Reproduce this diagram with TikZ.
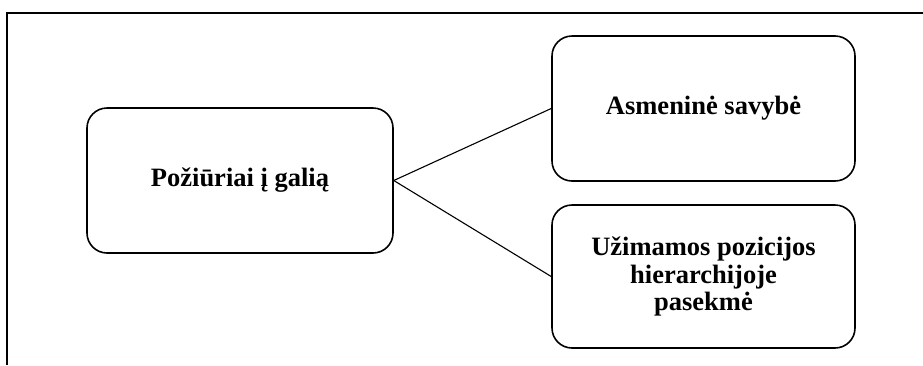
\documentclass[tikz,border=0pt]{standalone}
\usepackage{fontspec}
\setmainfont{Liberation Serif}
\begin{document}
\begin{tikzpicture}[x=1pt,y=-1pt,
  box/.style={draw=black, line width=1.6pt, rounded corners=20pt, inner sep=0pt,
    align=center, font=\fontsize{26.5}{27.5}\selectfont\bfseries},
  link/.style={draw=black, line width=1.1pt}]
\useasboundingbox (0,0) rectangle (923,365);
\draw[line width=1.6pt] (7,365) -- (7,13) -- (923,13);
\node[box, minimum width=306pt, minimum height=145pt] (main) at (240,180.5) {Požiūriai į galią};
\node[box, minimum width=303pt, minimum height=145pt] (top) at (703.5,108.5) {Asmeninė savybė};
\node[box, minimum width=303pt, minimum height=143pt] (bot) at (703.5,276.5) {Užimamos pozicijos\\hierarchijoje\\pasekmė};
\draw[link] (main.east) -- (top.west);
\draw[link] (main.east) -- (bot.west);
\end{tikzpicture}
\end{document}
